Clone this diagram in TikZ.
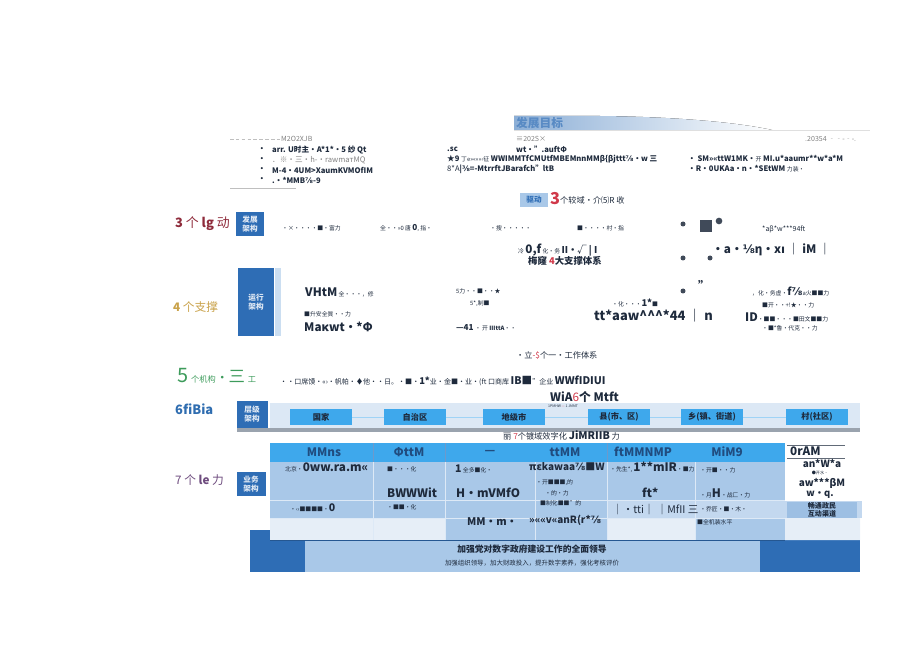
\documentclass[tikz,border=0pt]{standalone}
\usepackage{fontspec}
\setmainfont{Noto Sans CJK SC}
\newfontfamily\dvs{DejaVu Sans}
\usetikzlibrary{positioning}
\definecolor{ink}{HTML}{1E2A3C}
\definecolor{dkblue}{HTML}{2E6DB5}
\definecolor{skyblue}{HTML}{3EA8EC}
\definecolor{cellblue}{HTML}{A9C8E8}
\definecolor{paleblue}{HTML}{E6EEF7}
\definecolor{bandblue}{HTML}{DCE8F5}
\definecolor{barg}{HTML}{9AA3AE}
\definecolor{cthree}{HTML}{8E2A3A}
\definecolor{cfour}{HTML}{C9A24A}
\definecolor{cfive}{HTML}{3D9B5B}
\definecolor{csix}{HTML}{2F6DB0}
\definecolor{cseven}{HTML}{6E4C7E}
\definecolor{wred}{HTML}{D0394A}
\tikzset{
  sm/.style={anchor=west, inner sep=0pt, text=ink, font=\fontsize{5}{6}\selectfont},
  md/.style={anchor=west, inner sep=0pt, text=ink, font=\bfseries\fontsize{6.5}{7.5}\selectfont},
  lg/.style={anchor=west, inner sep=0pt, text=ink, font=\bfseries\fontsize{10}{11}\selectfont},
  gr/.style={anchor=west, inner sep=0pt, text=gray, font=\fontsize{6}{7}\selectfont},
  lab/.style={anchor=west, inner sep=0pt, font=\fontsize{11}{12}\selectfont},
  badge/.style={fill=dkblue, text=white!85!dkblue, inner sep=0pt, align=center, font=\bfseries\fontsize{6.5}{7.5}\selectfont},
  layer/.style={fill=skyblue, text=ink, inner sep=0pt, minimum width=1.86cm, minimum height=0.48cm, font=\bfseries\fontsize{7}{8}\selectfont},
  dot/.style={circle, fill=ink!85, inner sep=0pt, minimum size=0.15cm}
}
\begin{document}
\begin{tikzpicture}[x=0.03cm, y=-0.03cm]
  \useasboundingbox (0,0) rectangle (920,651);
  % goal header
  \fill[left color=dkblue!55, right color=white] (514,116) -- (600,116) .. controls (690,117) and (745,124) .. (772,130) -- (514,130) -- cycle;
  \draw[gray!25] (514,130) -- (870,130);
  \node[anchor=west, inner sep=0pt, text=dkblue!80, font=\bfseries\fontsize{10}{11}\selectfont] (goal) at (516,123) {发展目标};
  % goal columns
  \draw[gray!50, densely dashed] (230,139) -- (280,139);
  \node[gr] (yra) at (281,139) {M2O2XJB};
  \foreach \yy/\tx in {150/{arr. U时主·A*1*·5 纱 Qt}, 160/{\mdseries\color{gray}．※·三·h-·rawmaтMQ}, 170/{M-4·4UM>XaumKVMOfIM}, 180/{.·*MMB{\dvs ⅞}-9}}{
    \node[md, anchor=center] at (262,\yy) {•};
    \node[md] at (272,\yy) {\tx};}
  \draw[gray!50] (230,188) -- (296,188);
  \node[gr] (yrb) at (516,139) {≡202S×};
  \node[md] (gb1) at (516,149) {wt·".auftΦ};
  \node[md] (gb0) at (447,149) {.sc};
  \node[md] (gb2) at (447,159) {★9 {\mdseries\fontsize{5}{6}\selectfont 丁e»«««‹征} WWIMMTfCMUtfMBEMnnMMβ\{βjttt{\dvs ⅞}·w 三};
  \node[md] (gb3) at (447,169) {{\mdseries 8*A}|{\dvs ⅜}=-MtrrftJBarafch"ltB};
  \node[gr] (yrc) at (805,139) {.20354 ‐‐-‐-.};
  \node[md] (gc1) at (688,159) {• SM»«ttW1MK·{\mdseries\fontsize{5}{6}\selectfont 开} MI.u*aaumr**w*a*M};
  \node[md] (gc2) at (688,169) {•R·0UKAa·n·*SEtWM {\mdseries\fontsize{5}{6}\selectfont 力装·}};
  % drive row
  \node[fill=cellblue, text=dkblue, inner sep=0pt, minimum width=0.84cm, minimum height=0.42cm, font=\bfseries\fontsize{6.5}{7}\selectfont] (drv) at (534,200) {驱动};
  \node[anchor=west, inner sep=0pt, text=wred, font=\bfseries\itshape\fontsize{14}{14}\selectfont] (drn) at (550,199) {3};
  \node[sm, font=\fontsize{7}{8}\selectfont] (drt) at (560,200) {个较域•介⑸R 收};
  % row labels
  \node[lab, text=cthree] (r3) at (175,224) {\textbf{3} 个 \textbf{lg} 动};
  \node[lab, text=cfour, font=\fontsize{10}{11}\selectfont] (r4) at (173,307) {\textbf{4} 个支撑};
  \node[lab, text=cfive] (r5) at (177,376) {{\fontsize{17}{18}\selectfont 5} {\fontsize{7}{8}\selectfont 个机构}·{\fontsize{14}{14}\selectfont 三} {\fontsize{7}{8}\selectfont 工}};
  \node[lab, text=csix] (r6) at (175,409) {\textbf{6fiBia}};
  \node[lab, text=cseven, font=\fontsize{10}{11}\selectfont] (r7) at (175,480) {7 个 \textbf{le} 力};
  % badges
  \node[badge, minimum width=0.84cm, minimum height=0.72cm] (bdev) at (250,224) {发展\\架构};
  \fill[cellblue!60] (275,268) rectangle (281,336);
  \node[badge, minimum width=1.08cm, minimum height=2.04cm] (bops) at (256,302) {运行\\架构};
  % development row
  \node[sm] (d1) at (282,228) {·×·•··■·富力};
  \node[sm] (d2) at (380,228) {全··»0 唐 {\bfseries\fontsize{7}{8}\selectfont 0}, 指·};
  \node[sm] (d3) at (490,228) {·搜·····};
  \node[sm] (d4) at (577,228) {■···•村·指};
  \node[sm] (d5) at (518,250) {冷 {\bfseries\fontsize{10}{11}\selectfont 0,f} 化·务 {\bfseries\fontsize{8}{9}\selectfont II·√ | I}};
  \node[sm, font=\bfseries\fontsize{8}{9}\selectfont] (d6) at (528,261) {梅窿 {\color{wred}\itshape 4}大支撑体系};
  \node[dot] (p1) at (683,224) {};
  \node[fill=ink!85, inner sep=0pt, minimum size=0.38cm] (psq) at (706,226) {};
  \node[dot, minimum size=0.2cm] (p2) at (719,221) {};
  \node[sm, font=\fontsize{6}{7}\selectfont] (d7) at (762,229) {*aβ*w***94ft};
  \node[lg] (d8) at (712,250) {·a·{\dvs ⅛}η·x{\dvs ı} ｜ iM ｜};
  \node[dot] (p3) at (683,258) {};
  \node[dot] (p4) at (710,258) {};
  % support row
  \node[sm] (s1) at (305,292) {{\bfseries\fontsize{10}{11}\selectfont VHtM} 全···，修};
  \node[sm] (s2) at (304,314) {■升安全質··力};
  \node[lg] (s3) at (304,327) {Maκwt·*Φ};
  \node[sm] (s4) at (456,291) {5力··■··★};
  \node[sm] (s5) at (470,304) {5*,制■};
  \node[sm] (s6) at (456,328) {{\bfseries\fontsize{7}{8}\selectfont —41} · 开 {\bfseries IIIttA}··};
  \node[sm] (s7) at (612,303) {·化···{\bfseries\fontsize{8}{9}\selectfont 1*}■};
  \node[lg, font=\bfseries\fontsize{11}{12}\selectfont] (s8) at (594,316) {tt*aaw\textasciicircum\textasciicircum\textasciicircum*44 ｜ n};
  \node[dot] (p5) at (683,291) {};
  \node[lg] (s9) at (698,285) {”};
  \node[sm] (s10) at (752,292) {，化·务虚·{\bfseries\fontsize{9}{10}\selectfont f{\dvs ⅞}}a火■■力};
  \node[sm] (s11) at (762,305) {■开··+!★··力};
  \node[sm] (s12) at (745,317) {{\bfseries\fontsize{10}{11}\selectfont ID}·■■···■田文■■力};
  \node[sm] (s13) at (762,328) {·■*鲁·代克··力};
  % institution row
  \node[sm, font=\fontsize{7}{8}\selectfont] (i1) at (516,356) {·立{\color{wred}-\$}个一·工作体系};
  \node[sm, font=\fontsize{6}{7}\selectfont] (i2) at (280,381) {··口席馍·«›·帆帕·♦他··日。·■·{\bfseries\fontsize{8}{9}\selectfont 1*}业·金■·业·(ft 口商库 {\bfseries\fontsize{9}{10}\selectfont IB■}"企业 {\bfseries\fontsize{9}{10}\selectfont WWfIDIUI}};
  % layer row
  \fill[bandblue] (270,403) rectangle (860,428);
  \fill[barg] (237,428) rectangle (860,432);
  \node[badge, minimum width=0.93cm, minimum height=0.81cm] (blay) at (252,414) {层级\\架构};
  \node[lg] (l0) at (550,397) {WiA{\color{wred}\itshape\mdseries 6}个 Mtft};
  \node[sm, font=\fontsize{3}{3}\selectfont] (l0b) at (548,406) {1PMHW \color{wred}— \color{ink}1 JMMT};
  \foreach \cx/\lt [count=\i] in {321/国家, 415/自治区, 514/地级市, 619/{县(市、区)}, 712/{乡(镇、街道)}, 817/村(社区)}
    \node[layer] (l\i) at (\cx,417) {\lt};
  \foreach \a/\b in {1/2, 2/3, 3/4, 4/5, 5/6}
    \draw[skyblue!50, line width=0.6pt] (l\a) -- (l\b);
  \node[sm, font=\fontsize{7}{8}\selectfont] (l7) at (503,435) {丽 {\color{wred}\itshape 7}个镀域效字化 {\bfseries\fontsize{9}{10}\selectfont JiMRIIB} 力};
  % bottom band
  \fill[dkblue] (250,530) rectangle (860,572);
  \fill[cellblue] (305,540) rectangle (760,572);
  \node[text=ink, inner sep=0pt, font=\bfseries\fontsize{7.5}{8}\selectfont] (f1) at (532,549) {加强党对数字政府建设工作的全面领导};
  \node[text=ink, inner sep=0pt, font=\fontsize{5.5}{6}\selectfont] (f2) at (532,563) {加强组织领导，加大财政投入，提升数字素养，强化考核评价};
  % business table
  \node[badge, minimum width=0.87cm, minimum height=0.72cm] (bbiz) at (251,484) {业务\\架构};
  \fill[cellblue] (270,462) rectangle (785,540);
  \fill[cellblue!70] (607,501) rectangle (862,518);
  \fill[paleblue] (270,518) rectangle (445,540) (607,518) rectangle (695,540) (785,518) rectangle (860,540);
  \fill[skyblue] (270,443) rectangle (785,462);
  \foreach \xx in {373,445,607}
    \draw[dkblue!70, line width=0.6pt] (\xx,443) -- (\xx,462);
  \foreach \xx in {373,445,535,607,695}
    \draw[white!60!cellblue, line width=0.4pt] (\xx,462) -- (\xx,540);
  \draw[white!60!cellblue, line width=0.4pt] (270,500) -- (785,500) (270,518) -- (785,518);
  \draw[dkblue!80!black, line width=0.8pt] (270,540) -- (785,540);
  \foreach \cx/\hd [count=\i] in {324/MMns, 409/ΦttM, 490/—, 565/ttMM, 643/ftMMNMP, 727/MiM9}
    \node[text=dkblue!70!black, inner sep=0pt, font=\bfseries\fontsize{10}{11}\selectfont] (h\i) at (\cx,452) {\hd};
  \node[sm] (c1) at (285,467) {北京·{\bfseries\fontsize{10}{11}\selectfont 0ww.ra.m«}};
  \node[sm] (c2) at (290,508) {•‹‹■■■■·{\bfseries\fontsize{9}{10}\selectfont 0}};
  \node[sm] (c3) at (387,469) {■·••化};
  \node[lg] (c4) at (387,493) {BWWWit};
  \node[sm] (c5) at (387,507) {·■■·化};
  \node[sm] (c6) at (455,469) {{\bfseries\fontsize{9}{10}\selectfont 1} 全多■化·};
  \node[lg] (c7) at (456,493) {H·mVMfO};
  \node[lg, font=\bfseries\fontsize{9}{10}\selectfont] (c8) at (467,522) {MM·m·};
  \node[lg, font=\bfseries\fontsize{8.5}{9}\selectfont] (c9) at (529,467) {πεkawaa{\dvs ⅞}■W};
  \node[sm] (c10) at (536,483) {·开■■■,的};
  \node[sm] (c11) at (545,493) {·的·力};
  \node[sm] (c12) at (540,503) {■制化■■"的};
  \node[lg, font=\bfseries\fontsize{8.5}{9}\selectfont] (c13) at (529,520) {»««v«anR(r*{\dvs ⅞}};
  \node[sm] (c14) at (610,467) {·先生*, {\bfseries\fontsize{10}{11}\selectfont 1**mIR}·■力};
  \node[lg] (c15) at (642,493) {ft*};
  \node[lg, font=\fontsize{9}{10}\selectfont] (c16) at (612,509) {｜·tti｜ ｜MfII 三};
  \node[sm] (c17) at (700,470) {·开■··力};
  \node[sm] (c18) at (700,493) {·月{\bfseries\fontsize{10}{11}\selectfont H}·战匚·力};
  \node[sm] (c19) at (700,509) {·乔匠·■·木·};
  \node[sm] (c20) at (697,522) {■全机装水平};
  % right column
  \draw[ink!70, line width=0.5pt] (787,445) -- (845,445) (787,458) -- (845,458);
  \node[lg] (k1) at (790,451) {0rAM};
  \node[lg, anchor=center, font=\bfseries\fontsize{8.5}{9}\selectfont] (k2) at (822,464) {an*W*a};
  \node[sm, anchor=center, font=\fontsize{3.5}{4}\selectfont] (k3) at (820,473) {●开水•};
  \node[lg, anchor=center, font=\bfseries\fontsize{8.5}{9}\selectfont] (k4) at (822,483) {aw***βM};
  \node[lg, anchor=center, font=\bfseries\fontsize{8}{9}\selectfont] (k5) at (820,495) {w·q.};
  \node[fill=cellblue!90!dkblue, text=ink, inner sep=0pt, minimum width=2.1cm, minimum height=0.48cm, align=center, font=\bfseries\fontsize{6}{6.5}\selectfont] (k6) at (822,510) {畅通政民\\互动渠道};
\end{tikzpicture}
\end{document}
